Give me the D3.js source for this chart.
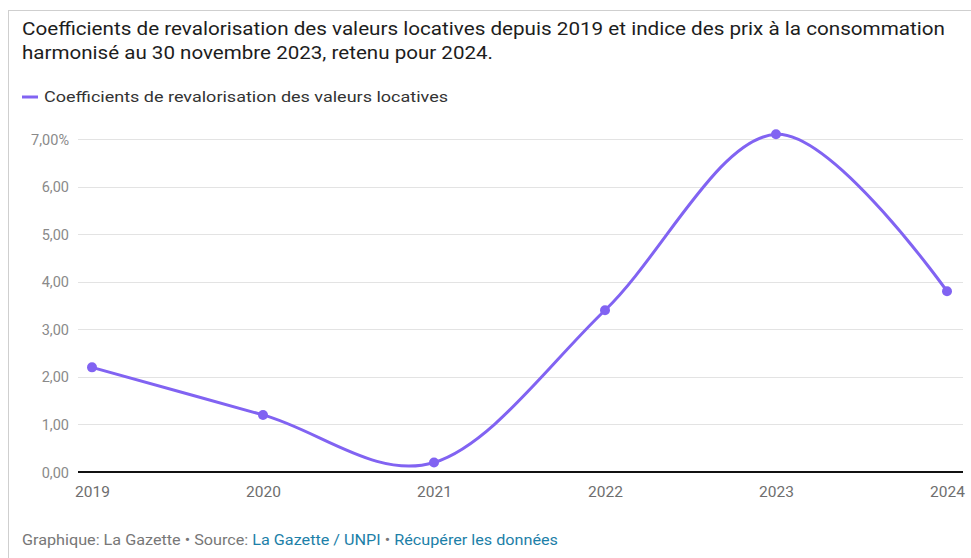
<!DOCTYPE html>
<html>
<head>
<meta charset="utf-8">
<script src="https://cdn.jsdelivr.net/npm/d3@7"></script>
<style>
  html, body { margin: 0; padding: 0; background: #fff; }
  svg { display: block; font-family: Roboto, "Noto Sans", sans-serif; }
</style>
</head>
<body>
<svg id="chart" width="971" height="558"></svg>
<script>
const years = [2019, 2020, 2021, 2022, 2023, 2024];
const values = [2.2, 1.2, 0.2, 3.4, 7.1, 3.8];
const yTicks = [0, 1, 2, 3, 4, 5, 6, 7];
const yTickLabels = ["0,00", "1,00", "2,00", "3,00", "4,00", "5,00", "6,00", "7,00%"];
const xTickLabels = ["2019", "2020", "2021", "2022", "2023", "2024"];
const titleLines = [
  "Coefficients de revalorisation des valeurs locatives depuis 2019 et indice des prix à la consommation",
  "harmonisé au 30 novembre 2023, retenu pour 2024."
];
const legendLabel = "Coefficients de revalorisation des valeurs locatives";

const svg = d3.select("#chart");
const W = 971, H = 558;
const color = "#8163f2";

// frame
svg.append("line").attr("x1", 8).attr("x2", W).attr("y1", 10.5).attr("y2", 10.5)
  .attr("stroke", "#cfcfcf").attr("stroke-width", 1);
svg.append("line").attr("x1", 8.5).attr("x2", 8.5).attr("y1", 10).attr("y2", H)
  .attr("stroke", "#cfcfcf").attr("stroke-width", 1);

// title
const titleWidths = [923, 471];
titleLines.forEach((t, i) => {
  svg.append("text").attr("x", 22).attr("y", 35 + i * 24)
    .attr("font-size", 18).attr("fill", "#1d1d1d")
    .attr("textLength", titleWidths[i]).attr("lengthAdjust", "spacingAndGlyphs")
    .text(t);
});

// legend
svg.append("line").attr("x1", 22).attr("x2", 38).attr("y1", 97).attr("y2", 97)
  .attr("stroke", color).attr("stroke-width", 3);
svg.append("text").attr("x", 44).attr("y", 102).attr("font-size", 14).attr("fill", "#333")
  .attr("textLength", 404).attr("lengthAdjust", "spacingAndGlyphs")
  .text(legendLabel);

// scales
const x = d3.scalePoint().domain(years).range([92, 947]);
const y = d3.scaleLinear().domain([0, 7]).range([472, 139]);

// grid
const grid = svg.append("g");
grid.selectAll("line").data(yTicks.filter(d => d !== 0)).join("line")
  .attr("x1", 78).attr("x2", 963)
  .attr("y1", d => Math.round(y(d)) + 0.5).attr("y2", d => Math.round(y(d)) + 0.5)
  .attr("stroke", "#e3e3e3").attr("stroke-width", 1);

// y axis labels
const yAxis = d3.axisLeft(y).tickValues(yTicks).tickSize(0)
  .tickFormat((d, i) => yTickLabels[i]);
const gy = svg.append("g").attr("transform", "translate(69,0)").call(yAxis);
gy.select(".domain").remove();
gy.selectAll("text").attr("x", 0).attr("dy", "0.35em")
  .attr("font-size", 14.5).attr("fill", "#8a8a8a").attr("font-family", "Roboto, sans-serif");

// baseline
svg.append("line").attr("x1", 78).attr("x2", 963).attr("y1", y(0)).attr("y2", y(0))
  .attr("stroke", "#111").attr("stroke-width", 2);

// x axis labels
const xAxis = d3.axisBottom(x).tickSize(0).tickFormat((d, i) => xTickLabels[i]);
const gx = svg.append("g").attr("transform", `translate(0,${y(0)})`).call(xAxis);
gx.select(".domain").remove();
gx.selectAll("text").attr("y", 14).attr("dy", "0.71em")
  .attr("font-size", 15.5).attr("fill", "#6e6e6e").attr("font-family", "Roboto, sans-serif");

// line
const data = years.map((yr, i) => ({ yr, v: values[i] }));
const line = d3.line().x(d => x(d.yr)).y(d => y(d.v)).curve(d3.curveCardinal.tension(0));
svg.append("path").datum(data).attr("d", line)
  .attr("fill", "none").attr("stroke", color).attr("stroke-width", 3)
  .attr("stroke-linecap", "round");
svg.append("g").selectAll("circle").data(data).join("circle")
  .attr("cx", d => x(d.yr)).attr("cy", d => y(d.v)).attr("r", 5)
  .attr("fill", color);

// footer
const foot = svg.append("text").attr("x", 22).attr("y", 545).attr("font-size", 14.5)
  .attr("textLength", 536).attr("lengthAdjust", "spacingAndGlyphs");
foot.append("tspan").attr("fill", "#777").text("Graphique: La Gazette • Source: ");
foot.append("tspan").attr("fill", "#1c80a8").text("La Gazette / UNPI");
foot.append("tspan").attr("fill", "#777").text(" • ");
foot.append("tspan").attr("fill", "#1c80a8").text("Récupérer les données");
</script>
</body>
</html>
